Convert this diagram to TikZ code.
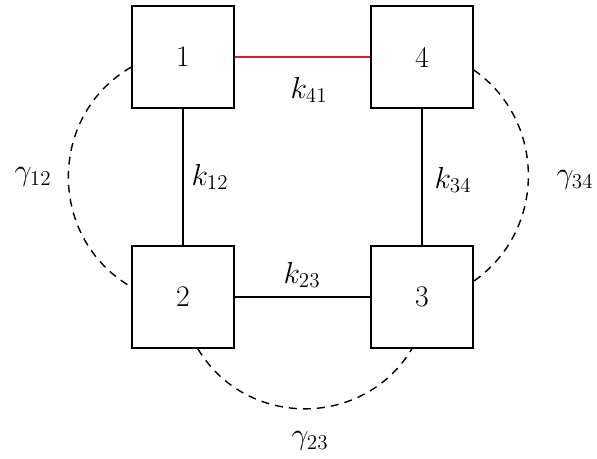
\documentclass[tikz,border=0pt]{standalone}
\usepackage{amsmath}
\usepackage{amssymb}
\usepackage{tikz}

\definecolor{linkred}{RGB}{218,24,48}
\tikzset{
  site/.style={draw, line width=0.8pt, minimum size=2.04cm, inner sep=0pt},
  coupling/.style={line width=0.8pt},
  decay/.style={line width=0.8pt, dash pattern=on 4.5pt off 3.5pt},
}

\begin{document}
\begin{tikzpicture}[x=0.02cm,y=-0.02cm,font=\fontsize{17}{20}\selectfont]
\useasboundingbox (0,0) rectangle (597,458);

\node[site] (s1) at (183,57) {1};
\node[site] (s4) at (422,57) {4};
\node[site] (s2) at (183,297) {2};
\node[site] (s3) at (422,297) {3};

\draw[coupling,linkred] (s1) -- (s4);
\draw[coupling] (s1) -- (s2);
\draw[coupling] (s2) -- (s3);
\draw[coupling] (s4) -- (s3);

\draw[decay] (s1.191) to[bend right=60,looseness=1.13] (s2.169);
\draw[decay] (s4.346) to[bend left=55,looseness=1.08] (s3.17);
\draw[decay] (s2.286) to[bend right=59,looseness=1.12] (s3.259);

\node (k41) at (309,90) {$k_{41}$};
\node (k12) at (210,177) {$k_{12}$};
\node (k34) at (453,180) {$k_{34}$};
\node (k23) at (302,275) {$k_{23}$};
\node (g12) at (33,177) {$\gamma_{12}$};
\node (g34) at (575,180) {$\gamma_{34}$};
\node (g23) at (310,441) {$\gamma_{23}$};

\end{tikzpicture}
\end{document}
